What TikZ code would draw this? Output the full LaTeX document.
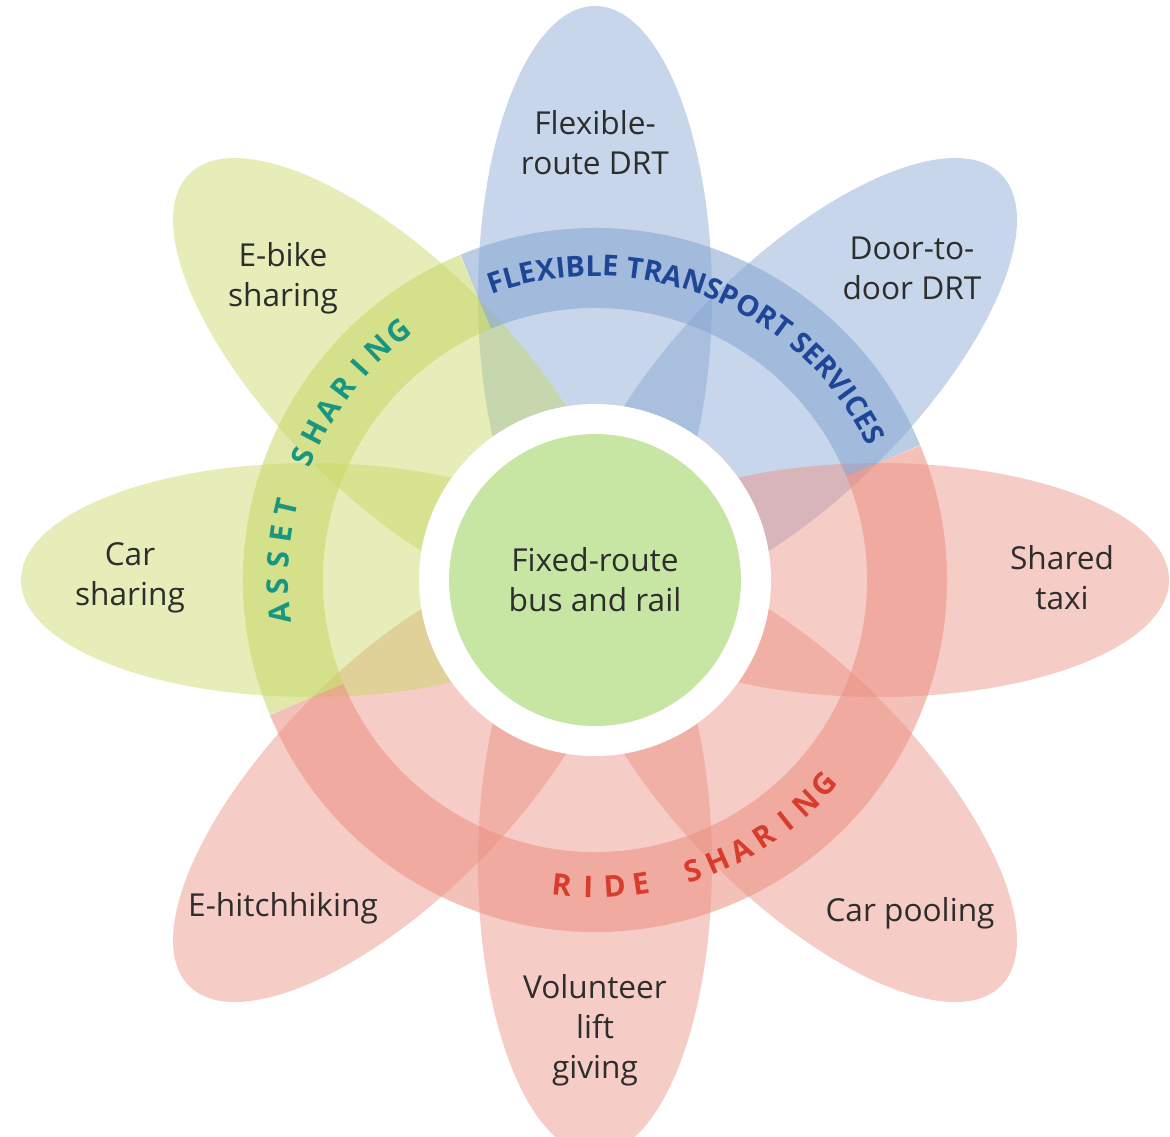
\documentclass[tikz,border=0pt]{standalone}
\usepackage{fontspec}
\setmainfont{Open Sans}
\usepackage{tikz}
\usetikzlibrary{decorations.text}

\definecolor{petalblue}{RGB}{131,164,208}
\definecolor{petalgreen}{RGB}{199,215,99}
\definecolor{petalred}{RGB}{235,142,128}
\definecolor{hubgreen}{RGB}{199,229,163}
\definecolor{labeltext}{RGB}{45,45,45}
\definecolor{flexblue}{RGB}{30,70,150}
\definecolor{assetteal}{RGB}{25,150,130}
\definecolor{ridered}{RGB}{215,60,45}

\begin{document}
\begin{tikzpicture}[
  petal/.style={fill=#1, fill opacity=0.45},
  band/.style={draw=#1, draw opacity=0.55, line width=0.8cm},
  lbl/.style={text=labeltext, align=center, font=\fontsize{9}{11.4}\selectfont},
  ringletter/.style={text=#1, inner sep=0pt, font=\fontsize{8.5}{10}\selectfont\bfseries}
]
  \useasboundingbox (-5.95,-5.56) rectangle (5.75,5.80);

  % petals
  \foreach \ang/\col in {90/petalblue, 45/petalblue, 0/petalred, -45/petalred,
                         -90/petalred, -135/petalred, 180/petalgreen, 135/petalgreen}
    \fill[petal=\col, rotate=\ang] (2.84,0) ellipse (2.9 and 1.17);

  % ring bands
  \draw[band=petalblue] (22.5:3.12) arc (22.5:112.5:3.12);
  \draw[band=petalgreen] (112.5:3.12) arc (112.5:202.5:3.12);
  \draw[band=petalred] (202.5:3.12) arc (202.5:382.5:3.12);

  % hub
  \fill[white] (0,0) circle (1.76);
  \node[circle, fill=hubgreen, minimum size=2.92cm, lbl] (hub) at (0,0) {Fixed-route\\bus and rail};

  % petal labels
  \node[lbl] (flexroute) at (0,4.37) {Flexible-\\route DRT};
  \node[lbl] (doortodoor) at (3.17,3.12) {Door-to-\\door DRT};
  \node[lbl] (sharedtaxi) at (4.67,0.02) {Shared\\taxi};
  \node[lbl] (carpooling) at (3.15,-3.33) {Car pooling};
  \node[lbl] (volunteer) at (0,-4.50) {Volunteer\\lift\\giving};
  \node[lbl] (hitchhiking) at (-3.12,-3.28) {E-hitchhiking};
  \node[lbl] (carsharing) at (-4.65,0.02) {Car\\sharing};
  \node[lbl] (ebike) at (-3.12,3.02) {E-bike\\sharing};

  % ring titles
  \path[decorate, decoration={text along path, text align=center,
      text={|\fontsize{8.2}{10}\selectfont\bfseries\color{flexblue}|FLEXIBLE TRANSPORT SERVICES}}]
    (119:3.04) arc (119:17:3.04);
  \foreach \ch [count=\i from 0] in {A,S,S,E,T,,S,H,A,R,I,N,G}
    \node[ringletter=assetteal, rotate=186-4.81*\i-90] (asset\i) at (186-4.81*\i:3.17) {\ch};
  \foreach \ch [count=\i from 0] in {R,I,D,E,,S,H,A,R,I,N,G}
    \node[ringletter=ridered, rotate=263.8+4.95*\i+90] (ride\i) at (263.8+4.95*\i:3.07) {\ch};
\end{tikzpicture}
\end{document}
